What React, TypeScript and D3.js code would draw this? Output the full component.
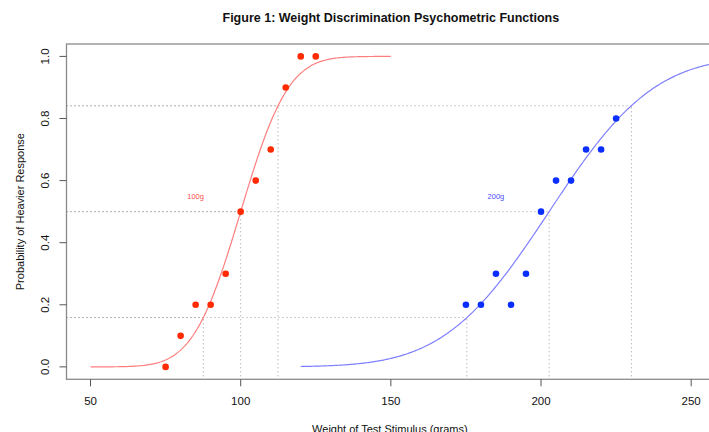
import React from "react";
import * as d3 from "d3";

const W = 709;
const H = 432;

// Data
const redX = [75, 80, 85, 90, 95, 100, 105, 110, 115, 120, 125];
const redY = [0, 0.1, 0.2, 0.2, 0.3, 0.5, 0.6, 0.7, 0.9, 1.0, 1.0];
const blueX = [175, 180, 185, 190, 195, 200, 205, 210, 215, 220, 225];
const blueY = [0.2, 0.2, 0.3, 0.2, 0.3, 0.5, 0.6, 0.6, 0.7, 0.7, 0.8];
// fitted normal-CDF parameters [mean, sd] and curve ranges
const redFit = [100, 12.45];
const blueFit = [202.7, 27.4];
const redRange = [50, 150];
const blueRange = [120, 280];
const xTicks = [50, 100, 150, 200, 250];
const yTicks = [0, 0.2, 0.4, 0.6, 0.8, 1.0];
const quantileProbs = [0.159, 0.5, 0.841];
const labels = ["100g", "200g"];
const labelPos = [
  [85, 0.55],
  [185, 0.55],
];

const RED_PT = "#ff2a00";
const RED_LINE = "#ff7f7f";
const BLUE_PT = "#0a2eff";
const BLUE_LINE = "#7f7fff";

const FONT = "'Liberation Sans', Arial, Helvetica, sans-serif";

export default function App() {
  const left = 66.5;
  const right = 715.2;
  const top = 44;
  const bottom = 379.3;
  const x = d3.scaleLinear().domain([42, 258]).range([left, right]);
  const y = d3.scaleLinear().domain([-0.04, 1.04]).range([bottom, top]);

  const cdf = (v: number, fit: number[]) => {
    const n = d3.randomNormal; // unused
    void n;
    const z = (v - fit[0]) / fit[1];
    // standard normal CDF via erf approximation
    const t = 1 / (1 + 0.3275911 * Math.abs(z) / Math.SQRT2);
    const a =
      t *
      (0.254829592 +
        t * (-0.284496736 + t * (1.421413741 + t * (-1.453152027 + t * 1.061405429))));
    const erf = 1 - a * Math.exp(-(z * z) / 2);
    return z >= 0 ? 0.5 * (1 + erf) : 0.5 * (1 - erf);
  };

  const line = d3
    .line<number>()
    .x((d) => x(d))
    .y((d) => y(0));

  const curvePath = (range: number[], fit: number[]) => {
    const xs = d3.range(range[0], range[1] + 0.001, 0.5);
    return d3
      .line<number>()
      .x((d) => x(d))
      .y((d) => y(cdf(d, fit)))(xs) as string;
  };
  void line;

  // quantile x-values: mean + z*sd
  const zVals = [-1, 0, 1];
  const quant = (fit: number[]) => zVals.map((z) => fit[0] + z * fit[1]);
  const redQ = quant(redFit);
  const blueQ = quant(blueFit);

  const dotted = { stroke: "#9a9a9a", strokeWidth: 1, strokeDasharray: "1,3", fill: "none" };

  return (
    <svg
      width={W}
      height={H}
      style={{ position: "absolute", left: 0, top: 0, background: "#fff" }}
      fontFamily={FONT}
    >
      <defs>
        <clipPath id="plotclip">
          <rect x={left} y={top} width={right - left} height={bottom - top} />
        </clipPath>
      </defs>
      <text
        x={(left + right) / 2}
        y={22}
        textAnchor="middle"
        fontWeight="bold"
        fontSize={12.5}
        fill="#111"
      >
        Figure 1: Weight Discrimination Psychometric Functions
      </text>

      <g clipPath="url(#plotclip)">
        {/* quantile reference lines */}
        {[redQ, blueQ].map((qs, k) =>
          qs.map((qx, i) => (
            <g key={`q${k}-${i}`}>
              <line x1={left} x2={x(qx)} y1={y(quantileProbs[i])} y2={y(quantileProbs[i])} {...dotted} />
              <line x1={x(qx)} x2={x(qx)} y1={bottom - 3} y2={y(quantileProbs[i])} {...dotted} />
            </g>
          ))
        )}
        <path d={curvePath(redRange, redFit)} stroke={RED_LINE} strokeWidth={1.2} fill="none" />
        <path d={curvePath(blueRange, blueFit)} stroke={BLUE_LINE} strokeWidth={1.2} fill="none" />
        {redX.map((v, i) => (
          <circle key={`r${i}`} cx={x(v)} cy={y(redY[i])} r={3.3} fill={RED_PT} />
        ))}
        {blueX.map((v, i) => (
          <circle key={`b${i}`} cx={x(v)} cy={y(blueY[i])} r={3.3} fill={BLUE_PT} />
        ))}
        <text x={x(labelPos[0][0])} y={y(labelPos[0][1])} textAnchor="middle" dominantBaseline="central" fontSize={7.5} fill="#ff4a4a">
          {labels[0]}
        </text>
        <text x={x(labelPos[1][0])} y={y(labelPos[1][1])} textAnchor="middle" dominantBaseline="central" fontSize={7.5} fill="#4a4aff">
          {labels[1]}
        </text>
      </g>

      {/* box */}
      <rect x={left} y={top} width={right - left} height={bottom - top} fill="none" stroke="#8a8a8a" strokeWidth={1.3} />

      {/* x axis */}
      {xTicks.map((t) => (
        <g key={`xt${t}`}>
          <line x1={x(t)} x2={x(t)} y1={bottom} y2={bottom + 7} stroke="#555" strokeWidth={1} />
          <text x={x(t)} y={401} textAnchor="middle" dominantBaseline="central" fontSize={11.5} fill="#111">
            {t}
          </text>
        </g>
      ))}
      {/* y axis */}
      {yTicks.map((t) => (
        <g key={`yt${t}`}>
          <line x1={left - 7} x2={left} y1={y(t)} y2={y(t)} stroke="#555" strokeWidth={1} />
          <text
            transform={`translate(45,${y(t)}) rotate(-90)`}
            textAnchor="middle"
            dominantBaseline="central"
            fontSize={11.5}
            fill="#111"
          >
            {t.toFixed(1)}
          </text>
        </g>
      ))}
      <text x={(left + right) / 2 - 1} y={429} textAnchor="middle" dominantBaseline="central" fontSize={11} fill="#111">
        Weight of Test Stimulus (grams)
      </text>
      <text
        transform={`translate(19.5,${(top + bottom) / 2}) rotate(-90)`}
        textAnchor="middle"
        dominantBaseline="central"
        fontSize={11}
        fill="#111"
      >
        Probability of Heavier Response
      </text>
    </svg>
  );
}
